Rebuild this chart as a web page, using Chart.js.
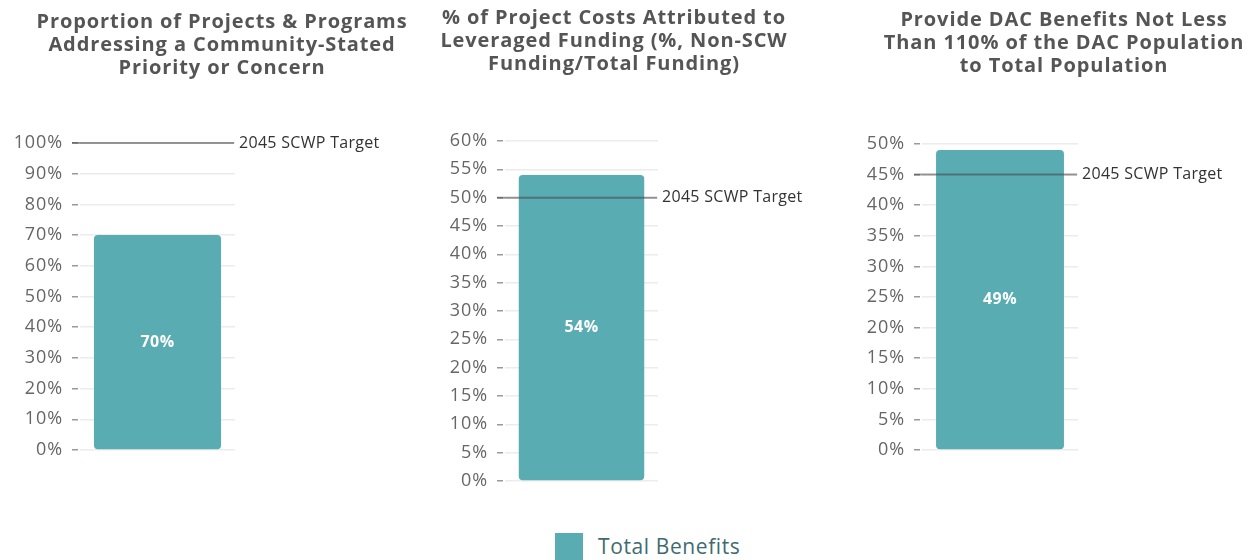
<!DOCTYPE html>
<html>
<head>
<meta charset="utf-8">
<script src="https://cdn.jsdelivr.net/npm/chart.js@4.4.1/dist/chart.umd.min.js"></script>
<style>
    html, body { margin: 0; padding: 0; width: 1255px; height: 560px; overflow: hidden; background: #fff; }
    canvas { position: absolute; top: 0; }
    #legend { position: absolute; left: 555px; top: 533px; font: 21px 'Open Sans', sans-serif; letter-spacing: 0.6px; color: #3f6b70; white-space: nowrap; }
    #legend span.swatch { position: absolute; left: 0; top: 0; width: 28px; height: 28px; }
    #legend span.label { position: absolute; left: 43px; top: -1px; }
</style>
</head>
<body>
<canvas id="chart1" width="444" height="470" style="left:0px"></canvas>
<canvas id="chart2" width="392" height="500" style="left:418px"></canvas>
<canvas id="chart3" width="416" height="470" style="left:856px"></canvas>
<div id="legend"></div>
<script>
// Datos
var titles = [
    ['Proportion of Projects & Programs', 'Addressing a Community-Stated', 'Priority or Concern'],
    ['% of Project Costs Attributed to', 'Leveraged Funding (%, Non-SCW', 'Funding/Total Funding)'],
    ['Provide DAC Benefits Not Less', 'Than 110% of the DAC Population', 'to Total Population']
];
var categories = [''];
var seriesName = 'Total Benefits';
var values = [70, 54, 49];
var targets = [100, 50, 45];
var targetText = '2045 SCWP Target';
var axisMax = [100, 60, 50];
var axisStep = [10, 5, 5];

// Disposicion de cada grafico
var layouts = [
    { id: 'chart1', left: 80, right: 209, titleTop: 11, titleBottom: 63, bottom: 20 },
    { id: 'chart2', left: 87, right: 152, titleTop: 7, titleBottom: 65, bottom: 19 },
    { id: 'chart3', left: 66, right: 194, titleTop: 9, titleBottom: 66, bottom: 20 }
];

var barColor = '#5aacb3';

Chart.defaults.font.family = "'Open Sans', sans-serif";
Chart.defaults.animation = false;

// Espaciado de letras para titulos y ejes
var spacing = {
    id: 'spacing',
    beforeDraw: function (chart) {
        chart.ctx.letterSpacing = '0.9px';
    }
};

// Linea de meta + etiqueta
var targetLine = {
    id: 'targetLine',
    afterDatasetsDraw: function (chart, args, opts) {
        var area = chart.chartArea;
        var y = chart.scales.y.getPixelForValue(opts.value);
        var ctx = chart.ctx;
        ctx.save();
        ctx.strokeStyle = 'rgba(70, 70, 70, 0.55)';
        ctx.lineWidth = 2;
        ctx.beginPath();
        ctx.moveTo(area.left - 8, y);
        ctx.lineTo(area.right - 1, y);
        ctx.stroke();
        ctx.fillStyle = '#333';
        ctx.letterSpacing = '0.3px';
        ctx.font = "16px 'Open Sans', sans-serif";
        ctx.textBaseline = 'middle';
        ctx.fillText(opts.text, area.right + 4, y);
        ctx.restore();
    }
};

// Etiqueta del valor dentro de la barra
var barValue = {
    id: 'barValue',
    afterDatasetsDraw: function (chart) {
        var ctx = chart.ctx;
        var meta = chart.getDatasetMeta(0);
        ctx.save();
        ctx.fillStyle = '#fff';
        ctx.letterSpacing = '0.5px';
        ctx.font = "bold 16px 'Open Sans', sans-serif";
        ctx.textAlign = 'center';
        ctx.textBaseline = 'middle';
        meta.data.forEach(function (bar, i) {
            var p = bar.getProps(['x', 'y', 'base'], true);
            ctx.fillText(chart.data.datasets[0].data[i] + '%', p.x, (p.y + p.base) / 2);
        });
        ctx.restore();
    }
};

var charts = layouts.map(function (lay, i) {
    var ctx = document.getElementById(lay.id).getContext('2d');
    return new Chart(ctx, {
        type: 'bar',
        data: {
            labels: categories,
            datasets: [{
                label: seriesName,
                data: [values[i]],
                backgroundColor: barColor,
                borderRadius: 4,
                borderSkipped: false,
                barPercentage: 1,
                categoryPercentage: 0.82
            }]
        },
        options: {
            responsive: false,
            layout: { padding: { bottom: lay.bottom } },
            scales: {
                x: { display: false },
                y: {
                    position: 'left',
                    min: 0,
                    max: axisMax[i],
                    afterFit: function (scale) { scale.width = lay.left; },
                    border: { display: false },
                    grid: {
                        color: '#ececec',
                        lineWidth: 1.5,
                        tickLength: 10,
                        tickColor: '#9a9a9a',
                        tickWidth: 1.5,
                        tickBorderDash: [0, 2, 6, 2]
                    },
                    ticks: {
                        stepSize: axisStep[i],
                        padding: 7,
                        color: '#666',
                        font: { size: 18 },
                        callback: function (v) { return v + '%'; }
                    }
                },
                yr: {
                    position: 'right',
                    afterFit: function (scale) { scale.width = lay.right; },
                    border: { display: false },
                    grid: { display: false },
                    ticks: { display: false }
                }
            },
            plugins: {
                legend: { display: false },
                tooltip: { enabled: false },
                title: {
                    display: true,
                    text: titles[i],
                    color: '#555',
                    font: { size: 20, weight: 'bold', lineHeight: 1.15 },
                    padding: { top: lay.titleTop, bottom: lay.titleBottom }
                },
                targetLine: { value: targets[i], text: targetText }
            }
        },
        plugins: [spacing, targetLine, barValue]
    });
});

// Leyenda comun
var ds = charts[0].data.datasets[0];
document.getElementById('legend').innerHTML =
    '<span class="swatch" style="background:' + ds.backgroundColor + '"></span>' +
    '<span class="label">' + ds.label + '</span>';
</script>
</body>
</html>
